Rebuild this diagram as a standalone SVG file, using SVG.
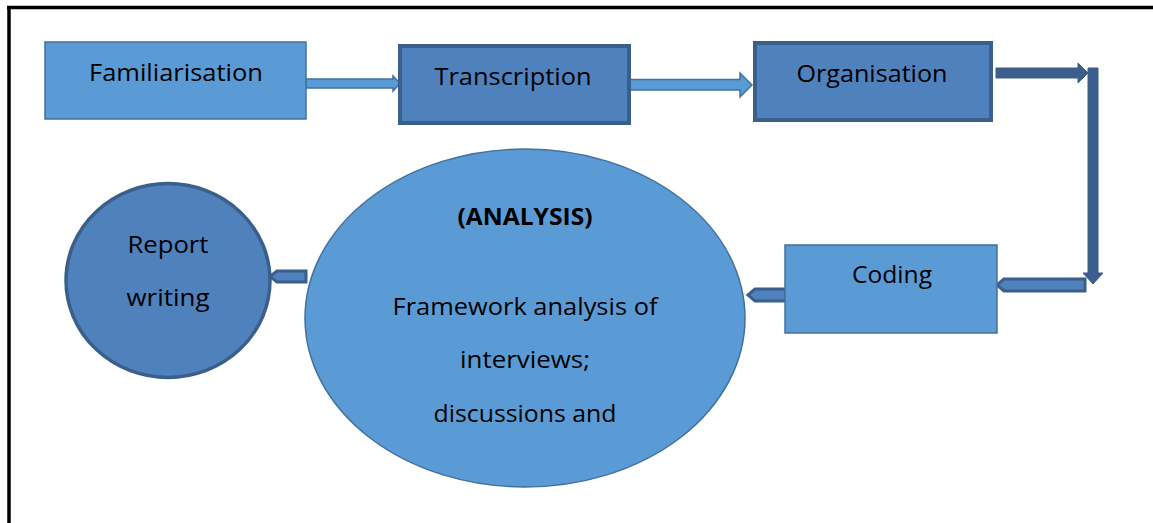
<svg xmlns="http://www.w3.org/2000/svg" width="1153" height="523" viewBox="0 0 1153 523">
<style>
.t{font-family:"Open Sans","Liberation Sans",sans-serif;font-size:24px;fill:#000;text-anchor:middle}
.b{font-weight:bold}
.light{fill:#5B9BD5;stroke:#41719C;stroke-width:1.5}
.dark{fill:#4F81BD;stroke:#3A5F8B;stroke-width:4}
.ac{fill:#3B5E8C;stroke:#3B5E8C;stroke-width:1}
.ap{fill:#4F81BD;stroke:#3A5F8B;stroke-width:3;stroke-linejoin:miter}
.al{fill:#5B9BD5;stroke:#41719C;stroke-width:1.5}
</style>
<rect width="1153" height="523" fill="#fff"/>
<g id="frame" stroke="#000" stroke-width="3.5" fill="none">
<line x1="7" y1="7.5" x2="1153" y2="7.5"/>
<line x1="9" y1="6" x2="9" y2="523"/>
</g>
<g id="connectors">
<polygon class="al" points="306,79 393,79 393,76 400,83.5 393,91 393,88 306,88"/>
<polygon class="al" points="629,79.5 740,79.5 740,73 752,85 740,97 740,90 629,90"/>
<polygon class="ac" points="996,68 1078,68 1078,63 1088,73 1078,83 1078,78 996,78"/>
<polygon class="ac" points="1088,68 1098,68 1098,273 1103,273 1093,284 1083,273 1088,273"/>
<polygon class="ap" points="997,285 1004,279 1085,279 1085,291 1004,291"/>
<polygon class="ap" points="748,295 755,289 786,289 786,301 755,301"/>
<polygon class="ap" points="270,276.5 277,271 306,271 306,282 277,282"/>
</g>
<g id="familiarisation">
<rect class="light" x="45" y="42" width="261" height="77"/>
<text class="t" x="176" y="81" textLength="174" lengthAdjust="spacingAndGlyphs">Familiarisation</text>
</g>
<g id="transcription">
<rect class="dark" x="400" y="46" width="229" height="77"/>
<text class="t" x="513" y="85" textLength="157" lengthAdjust="spacingAndGlyphs">Transcription</text>
</g>
<g id="organisation">
<rect class="dark" x="755" y="43" width="236" height="77"/>
<text class="t" x="872" y="82" textLength="151" lengthAdjust="spacingAndGlyphs">Organisation</text>
</g>
<g id="coding">
<rect class="light" x="785" y="245" width="212" height="88"/>
<text class="t" x="892" y="283" textLength="80" lengthAdjust="spacingAndGlyphs">Coding</text>
</g>
<g id="analysis">
<ellipse class="light" cx="525" cy="318" rx="220" ry="169"/>
<text class="t b" x="525" y="225" textLength="135" lengthAdjust="spacingAndGlyphs">(ANALYSIS)</text>
<text class="t" x="525" y="315" textLength="265" lengthAdjust="spacingAndGlyphs">Framework analysis of</text>
<text class="t" x="525" y="368" textLength="130" lengthAdjust="spacingAndGlyphs">interviews;</text>
<text class="t" x="525" y="422" textLength="183" lengthAdjust="spacingAndGlyphs">discussions and</text>
</g>
<g id="report">
<ellipse cx="168" cy="280.5" rx="102" ry="97" fill="#4F81BD" stroke="#3A5F8B" stroke-width="3.5"/>
<text class="t" x="168" y="253" textLength="81" lengthAdjust="spacingAndGlyphs">Report</text>
<text class="t" x="168" y="306" textLength="83" lengthAdjust="spacingAndGlyphs">writing</text>
</g>
</svg>
